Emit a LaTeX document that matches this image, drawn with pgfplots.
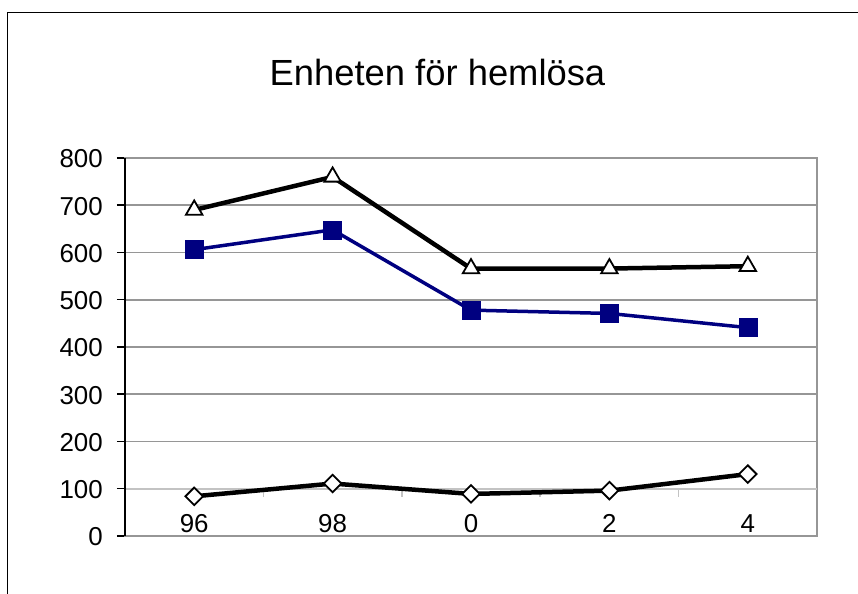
\documentclass[border=0pt]{standalone}
\usepackage{fontspec}
\setmainfont{Liberation Sans}
\usepackage{pgfplots}
\pgfplotsset{compat=1.18}

\definecolor{navyline}{RGB}{0,0,128}
\definecolor{gridgray}{RGB}{150,150,150}
\definecolor{axisgray}{RGB}{195,195,195}
\newcommand{\ticksize}{\fontsize{26}{26}\selectfont}

\begin{document}
\begin{tikzpicture}[x=1bp,y=1bp]
  % outer chart frame (right and bottom run off the page)
  \draw[black, line width=1bp] (7.3,-40) rectangle (900,581.7);
  \node[anchor=base, font=\fontsize{36.5}{36.5}\selectfont] at (437.5,508) {Enheten för hemlösa};

  \begin{axis}[
    at={(125bp,58bp)}, anchor=south west,
    width=692bp, height=378bp, scale only axis,
    xmin=-0.5, xmax=4.5, ymin=0, ymax=800,
    ytick={0,100,...,800},
    xtick={0,1,2,3,4},
    xticklabels={96,98,0,2,4},
    ytick pos=left,
    ymajorgrids,
    grid style={gridgray, line width=1.8bp},
    axis line style={gridgray, line width=1.8bp},
    xtick style={draw=none},
    ytick style={black, line width=1.5bp},
    tick align=outside,
    major tick length=8bp,
    every tick label/.append style={font=\ticksize},
    xticklabel style={font=\ticksize, anchor=base, yshift=11bp},
    yticklabel style={font=\ticksize, anchor=east, inner sep=0pt, xshift=-14bp, yshift=-1bp},
    /pgf/number format/assume math mode=true,
    clip=false,
  ]
    % light grey category axis crossing at 100
    \draw[axisgray, line width=1.8bp] (axis cs:-0.5,100) -- (axis cs:4.5,100);
    \pgfplotsinvokeforeach{0.5,1.5,2.5,3.5}{
      \draw[axisgray, line width=1.5bp] (axis cs:#1,100) -- ([yshift=-8bp]axis cs:#1,100);
    }
    \draw[black, line width=2bp] (axis cs:-0.5,0) -- (axis cs:-0.5,800);

    \addplot[color=navyline, line width=3.5bp, mark=square*, mark size=9bp,
             mark options={fill=navyline, draw=navyline, line width=0.5bp}] coordinates {
      (0,606) (1,648) (2,478) (3,471) (4,441)
    };
    \addplot[color=black, line width=4.5bp, mark=triangle*, mark size=9.5bp,
             mark options={fill=white, draw=black, line width=1.8bp}] coordinates {
      (0,690) (1,760) (2,566) (3,566) (4,571)
    };
    \addplot[color=black, line width=4.5bp, mark=square*, mark size=6.2bp,
             mark options={fill=white, draw=black, line width=1.8bp, rotate=45}] coordinates {
      (0,84) (1,111) (2,89) (3,96) (4,131)
    };
  \end{axis}

  \pgfresetboundingbox
  \path[use as bounding box] (0,0) rectangle (858,594);
\end{tikzpicture}
\end{document}
